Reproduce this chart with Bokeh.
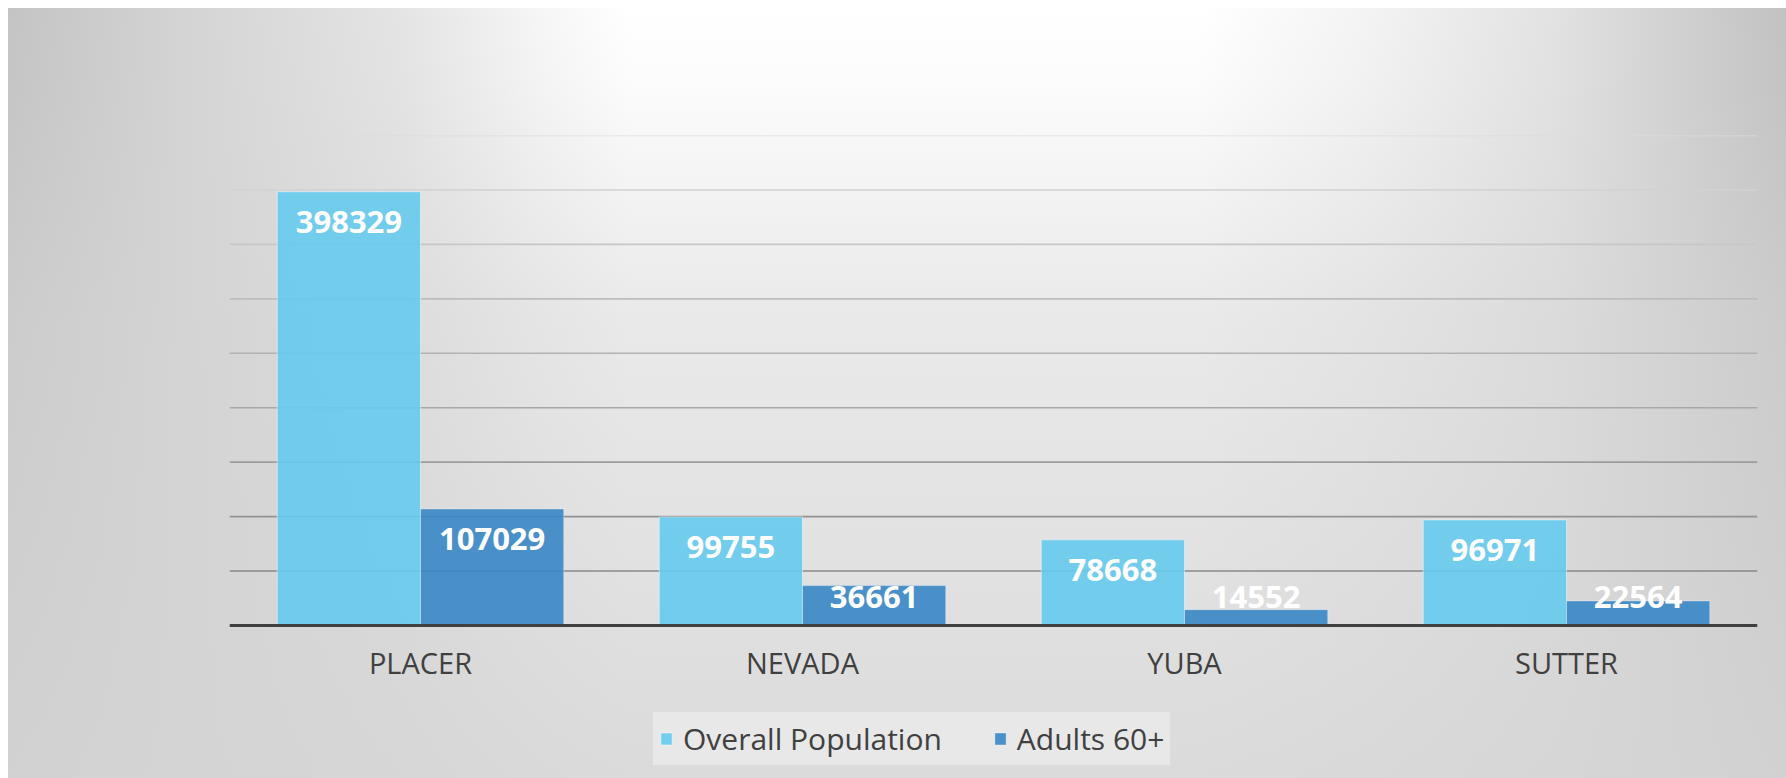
from bokeh.plotting import figure
from bokeh.models import Range1d, Span, Legend, LegendItem, ColumnDataSource
from bokeh.transform import dodge
from bokeh.core.properties import value
from bokeh.embed import file_html
from bokeh.resources import INLINE
import numpy as np

# ---- data ----
counties = ["PLACER", "NEVADA", "YUBA", "SUTTER"]
overall_population = [398329, 99755, 78668, 96971]
adults_60_plus = [107029, 36661, 14552, 22564]
series_names = ["Overall Population", "Adults 60+"]
y_ticks = [50000, 100000, 150000, 200000, 250000, 300000, 350000, 400000, 450000]
y_max = 450000

# ---- layout / style ----
FONT = "Open Sans"
LIGHT = "#66CBEE"
DARK = "#3987C5"
TEXT = "#404040"
W, H = 1778, 770
TOP, PLOT_H = 127, 490           # px: frame top, height of the 0..y_max band
BELOW = H - TOP - PLOT_H          # px below the zero line (labels + legend)
y_min = -y_max * BELOW / PLOT_H   # frame extends below zero so the legend sits inside it

# label anchor: Excel keeps "inside end" labels inside the plot for short bars
min_label_anchor = 54000
src = ColumnDataSource(dict(
    county=counties,
    overall=overall_population,
    adults=adults_60_plus,
    overall_lbl=np.maximum(overall_population, min_label_anchor),
    adults_lbl=np.maximum(adults_60_plus, min_label_anchor),
    overall_txt=[str(v) for v in overall_population],
    adults_txt=[str(v) for v in adults_60_plus],
))

p = figure(x_range=counties, y_range=Range1d(y_min, y_max), width=W, height=H,
           output_backend="svg", toolbar_location=None,
           min_border_left=221, min_border_right=29,
           min_border_top=TOP, min_border_bottom=0)

p.background_fill_color = None
p.border_fill_color = None
p.outline_line_color = None
p.styles = {
    "margin": "8px 0 0 8px",
    "background": (
        "linear-gradient(to bottom, rgba(212,212,212,0) 0%, rgba(212,212,212,0.08) 10%, "
        "rgba(212,212,212,0.5) 40%, rgba(212,212,212,0.85) 100%), "
        "linear-gradient(to right, #c4c4c4 0%, #d4d4d4 10%, #e4e4e4 22%, #f6f6f6 30%, "
        "#ffffff 35%, #ffffff 67%, #f4f4f4 76%, #e2e2e2 87%, #cecece 95%, #c2c2c2 100%)"
    ),
}

p.xgrid.visible = False
p.ygrid.visible = False

# gridlines (darker toward the bottom)
for i, t in enumerate(y_ticks):
    frac = i / (len(y_ticks) - 1)
    g = int(round(0x88 + frac * (0xdc - 0x88)))
    p.add_layout(Span(location=t, dimension="width", line_color="#%02x%02x%02x" % (g, g, g),
                      line_width=1.6, level="underlay"))

bw = 0.375
r1 = p.vbar(x=dodge("county", -bw / 2, range=p.x_range), top="overall", width=bw, source=src,
            fill_color=LIGHT, fill_alpha=0.9, line_color="white", line_alpha=0.45, line_width=1)
r2 = p.vbar(x=dodge("county", bw / 2, range=p.x_range), top="adults", width=bw, source=src,
            fill_color=DARK, fill_alpha=0.9, line_color="white", line_alpha=0.35, line_width=1)

for col, off in (("overall", -bw / 2), ("adults", bw / 2)):
    p.text(x=dodge("county", off, range=p.x_range), y=col + "_lbl", text=col + "_txt", source=src,
           y_offset=30, text_align="center", text_baseline="middle",
           text_font=value(FONT), text_font_style="bold", text_font_size="31px",
           text_color="white")

p.yaxis.visible = False
ax = p.xaxis[0]
ax.fixed_location = 0
ax.axis_line_color = TEXT
ax.axis_line_width = 3
ax.major_tick_line_color = None
ax.minor_tick_line_color = None
ax.major_label_text_font = FONT
ax.major_label_text_font_size = "29px"
ax.major_label_text_color = TEXT
ax.major_label_standoff = 11

legend = Legend(items=[LegendItem(label=series_names[0], renderers=[r1]),
                       LegendItem(label=series_names[1], renderers=[r2])],
                orientation="horizontal", location=(424, 13))
legend.background_fill_color = "#ececec"
legend.background_fill_alpha = 0.75
# an (invisible) border is needed for Bokeh to apply the padding
legend.border_line_color = "#ececec"
legend.border_line_alpha = 0.0
legend.label_text_font = FONT
legend.label_text_font_size = "30px"
legend.label_text_color = TEXT
legend.glyph_width = 14
legend.glyph_height = 15
legend.label_standoff = 10
legend.spacing = 51
legend.padding = 6
legend.margin = 0
p.add_layout(legend, "center")

open("out.html", "w").write(file_html(p, INLINE))
